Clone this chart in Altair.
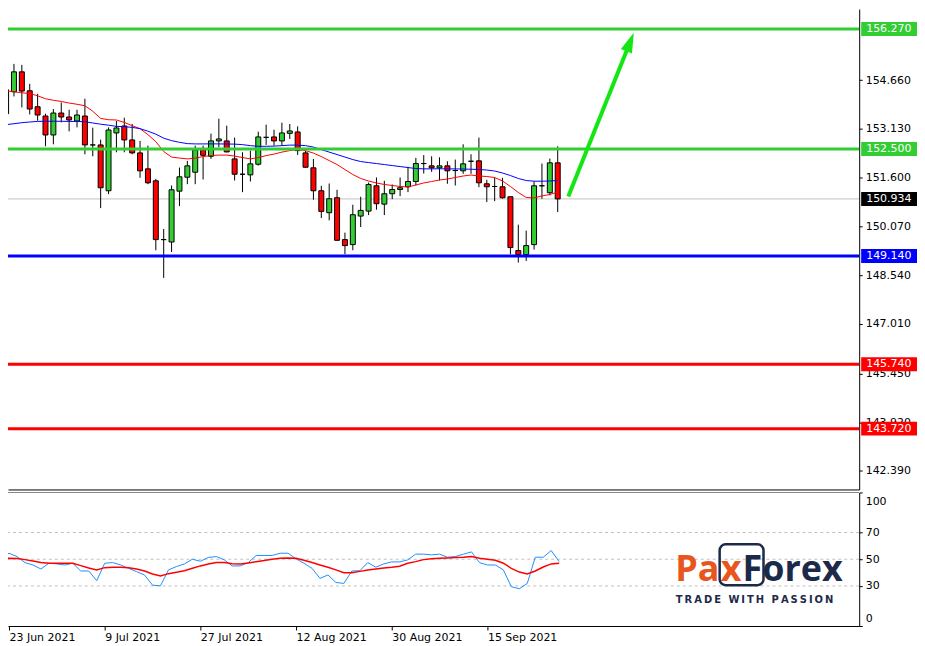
import altair as alt
import pandas as pd

# ---------------- data ----------------
bars = list(range(71))
opens = [153.609, 154.298, 154.924, 154.329, 153.828, 153.537, 152.942, 153.631, 153.506, 153.381,
         153.537, 152.629, 152.629, 151.190, 153.005, 153.224, 152.786, 152.379, 151.878, 151.503,
         149.656, 149.581, 151.177, 151.615, 151.772, 152.473, 152.273, 152.755, 152.755, 152.191,
         151.709, 151.690, 152.022, 152.867, 152.880, 152.755, 152.992, 153.036, 152.379, 151.910,
         151.190, 150.501, 150.971, 149.656, 149.499, 150.395, 150.551, 151.346, 150.770, 151.096,
         151.230, 151.315, 151.481, 152.044, 151.972, 151.910, 151.972, 151.825, 151.816, 152.116,
         152.129, 151.409, 151.324, 151.315, 151.002, 149.312, 149.186, 149.499, 151.346, 151.127,
         152.066]
highs = [154.486, 155.174, 155.143, 154.548, 154.235, 153.609, 153.756, 153.963, 153.734, 153.734,
         154.079, 153.171, 152.795, 153.180, 153.381, 153.484, 153.287, 152.755, 152.607, 151.565,
         149.988, 151.355, 151.919, 152.129, 152.607, 152.607, 152.983, 153.453, 153.233, 152.858,
         152.398, 152.451, 153.046, 153.265, 153.108, 153.327, 153.287, 153.212, 152.451, 152.191,
         151.346, 151.418, 151.221, 149.875, 150.751, 151.002, 151.449, 151.606, 151.503, 151.387,
         151.606, 151.941, 152.223, 152.310, 152.273, 152.241, 152.116, 152.169, 152.648, 152.335,
         152.858, 151.534, 151.597, 151.597, 151.002, 150.125, 149.938, 151.481, 152.044, 152.201,
         152.586]
lows = [153.108, 154.151, 153.806, 153.587, 153.390, 152.586, 152.648, 153.337, 153.055, 153.180,
        152.335, 152.273, 150.645, 151.083, 152.398, 152.398, 152.335, 151.597, 151.396, 149.321,
        148.454, 149.268, 150.708, 151.396, 151.396, 151.543, 152.191, 152.554, 152.398, 151.512,
        151.146, 151.481, 151.981, 152.629, 152.607, 152.607, 152.817, 152.316, 151.910, 150.908,
        150.332, 150.260, 149.625, 149.196, 149.321, 150.050, 150.426, 150.595, 150.426, 150.927,
        151.021, 151.146, 151.355, 151.731, 151.784, 151.512, 151.409, 151.355, 151.722, 151.722,
        151.302, 150.833, 150.864, 150.939, 149.196, 148.936, 148.986, 149.343, 150.939, 151.042,
        150.520]
closes = [154.360, 154.924, 154.320, 153.756, 153.568, 152.942, 153.631, 153.506, 153.412, 153.568,
          152.629, 152.629, 151.284, 153.099, 153.162, 152.786, 152.379, 151.816, 151.440, 149.656,
          149.656, 151.221, 151.628, 151.972, 152.473, 152.304, 152.755, 152.817, 152.410, 151.709,
          151.709, 152.035, 152.880, 152.867, 152.755, 153.005, 153.068, 152.451, 151.928, 151.190,
          150.542, 150.939, 149.634, 149.468, 150.438, 150.573, 151.387, 150.783, 151.096, 151.230,
          151.284, 151.481, 152.044, 152.044, 151.910, 151.972, 151.816, 151.825, 152.035, 152.116,
          151.440, 151.315, 151.324, 150.971, 149.406, 149.186, 149.468, 151.346, 151.346, 152.066,
          150.934]
ma_fast = [154.329, 154.298, 154.266, 154.244, 154.172, 154.079, 154.032, 153.994, 153.944, 153.906,
           153.859, 153.687, 153.462, 153.421, 153.412, 153.337, 153.233, 153.140, 152.952, 152.733,
           152.420, 152.248, 152.216, 152.191, 152.216, 152.263, 152.294, 152.310, 152.310, 152.279,
           152.232, 152.191, 152.232, 152.294, 152.341, 152.404, 152.451, 152.482, 152.451, 152.373,
           152.263, 152.138, 152.013, 151.856, 151.700, 151.575, 151.496, 151.434, 151.387, 151.355,
           151.324, 151.309, 151.371, 151.434, 151.481, 151.528, 151.559, 151.606, 151.653, 151.684,
           151.653, 151.637, 151.606, 151.496, 151.324, 151.136, 150.980, 150.964, 151.027, 151.074,
           151.146]
ma_slow = [153.265, 153.296, 153.327, 153.349, 153.368, 153.371, 153.374, 153.371, 153.368, 153.365,
           153.359, 153.318, 153.280, 153.249, 153.212, 153.202, 153.180, 153.140, 153.061, 152.967,
           152.842, 152.764, 152.711, 152.670, 152.661, 152.661, 152.663, 152.661, 152.658, 152.654,
           152.639, 152.607, 152.586, 152.586, 152.592, 152.607, 152.623, 152.623, 152.607, 152.561,
           152.482, 152.404, 152.326, 152.248, 152.169, 152.107, 152.075, 152.044, 152.013, 151.981,
           151.950, 151.919, 151.888, 151.878, 151.878, 151.880, 151.878, 151.876, 151.872, 151.866,
           151.856, 151.841, 151.809, 151.747, 151.668, 151.575, 151.512, 151.490, 151.490, 151.496,
           151.512]
stoch_k = [50.8, 54.5, 52.0, 47.5, 45.7, 42.7, 47.0, 46.5, 45.7, 47.0,
           41.2, 41.2, 33.9, 47.0, 47.5, 45.7, 43.2, 40.7, 38.2, 30.6,
           30.1, 42.0, 44.5, 46.5, 50.0, 48.5, 51.3, 52.0, 49.5, 45.0,
           45.0, 47.5, 52.8, 52.8, 52.8, 54.5, 54.5, 50.3, 47.0, 43.2,
           35.7, 38.2, 32.6, 31.9, 41.2, 41.4, 47.5, 44.0, 46.5, 48.0,
           48.0, 49.5, 53.8, 53.8, 53.3, 53.8, 51.5, 52.0, 53.8, 55.5,
           47.5, 45.7, 45.7, 42.0, 29.4, 27.9, 31.9, 51.5, 51.5, 56.5, 48.2]
stoch_d = [49.5, 50.8, 50.5, 49.7, 48.7, 47.5, 47.0, 47.0, 47.0, 47.0,
           45.2, 43.5, 42.0, 43.7, 44.0, 44.0, 43.7, 42.7, 41.2, 38.9,
           37.4, 39.2, 40.2, 41.4, 43.2, 45.0, 46.5, 47.5, 47.5, 46.7,
           46.5, 47.2, 48.2, 49.0, 50.0, 50.8, 51.0, 50.8, 49.2, 47.5,
           45.7, 44.0, 42.0, 39.9, 39.9, 40.9, 42.0, 42.7, 43.5, 44.0,
           44.7, 47.0, 48.2, 49.7, 50.3, 50.8, 51.0, 51.3, 51.5, 52.0,
           50.8, 50.0, 49.2, 47.0, 43.2, 40.4, 38.9, 41.2, 44.2, 46.5, 47.0]

date_ticks = [1, 13, 25, 37, 49, 61]
date_labels = ["23 Jun 2021", "9 Jul 2021", "27 Jul 2021", "12 Aug 2021", "30 Aug 2021", "15 Sep 2021"]
price_ticks = [154.66, 153.13, 151.60, 150.07, 148.54, 147.01, 145.45, 143.92, 142.39]
level_prices = [156.27, 152.50, 149.14, 145.74, 143.72]
level_colors = ["#32CD32", "#32CD32", "#0000FF", "#FF0000", "#FF0000"]
last_price = 150.934
tag_prices = [156.27, 152.50, 150.934, 149.14, 145.74, 143.72]
tag_colors = ["#32CD32", "#32CD32", "#000000", "#0000FF", "#FF0000", "#FF0000"]
osc_levels = [30, 50, 70]
osc_ticks = [0, 30, 50, 70, 100]
arrow_x = [71.34, 79.19]
arrow_y = [151.01, 155.86]
arrow_tip_x = [79.66]
arrow_tip_y = [156.15]

# ---------------- frames ----------------
candles = pd.DataFrame({"i": bars, "open": opens, "high": highs, "low": lows, "close": closes})
candles["fill"] = ["#32CD32" if c >= o else "#FF0000" for o, c in zip(opens, closes)]
mas = pd.DataFrame({"i": bars, "fast": ma_fast, "slow": ma_slow})
osc = pd.DataFrame({"i": bars, "k": stoch_k, "d": stoch_d})
levels = pd.DataFrame({"price": level_prices, "color": level_colors})
tags = pd.DataFrame({"price": tag_prices, "color": tag_colors,
                     "label": [f"{p:.3f}" for p in tag_prices]})
arrow = pd.DataFrame({"x": arrow_x, "y": arrow_y})
tip = pd.DataFrame({"x": arrow_tip_x, "y": arrow_tip_y})
one = pd.DataFrame({"a": [0]})

FONT = "DejaVu Sans"
ARROW = "#14E614"
NAVY = "#1C2A4A"
ORANGE = "#E8561E"

xs = alt.Scale(domain=[0.875, 107.625], nice=False, zero=False)
ys = alt.Scale(domain=[141.81, 156.896], nice=False, zero=False)
yo = alt.Scale(domain=[0, 100], nice=False, zero=False)

x_axis_main = alt.Axis(labels=False, ticks=False, domain=True, domainColor="black",
                       grid=False, title=None)
y_axis_main = alt.Axis(orient="right", values=price_ticks, format=".3f", labelFont=FONT,
                       labelFontSize=11, labelColor="black", tickColor="black", tickSize=3,
                       domainColor="black", labelPadding=3, grid=False, title=None,
                       labelOverlap=False, labelFlush=False)

label_expr = " : ".join(f"datum.value == {p} ? '{l}'" for p, l in zip(date_ticks, date_labels)) + " : ''"
x_axis_osc = alt.Axis(values=date_ticks, labelExpr=label_expr, labelAlign="left", labelFont=FONT,
                      labelFontSize=11, labelColor="black", tickColor="black", tickSize=4,
                      domainColor="black", labelPadding=2, grid=False, title=None,
                      labelOverlap=False, labelFlush=False)
y_axis_osc = alt.Axis(orient="right", values=osc_ticks, labelFont=FONT, labelFontSize=11,
                      labelColor="black", tickColor="black", tickSize=3, domainColor="black",
                      labelPadding=3, grid=False, title=None, labelOverlap=False, labelFlush=False,
                      labelOffset={"condition": [{"test": "datum.value == 100", "value": 9},
                                                 {"test": "datum.value == 0", "value": -8}],
                                   "value": 0})


def XM(f):
    return alt.X(f"{f}:Q", scale=xs, axis=x_axis_main, title=None)


def YM(f):
    return alt.Y(f"{f}:Q", scale=ys, axis=y_axis_main, title=None)


def XO(f):
    return alt.X(f"{f}:Q", scale=xs, axis=x_axis_osc, title=None)


def YO(f):
    return alt.Y(f"{f}:Q", scale=yo, axis=y_axis_osc, title=None)


# ---------------- main panel ----------------
grey = alt.Chart(pd.DataFrame({"p": [last_price]})).mark_rule(
    color="#C0C0C0", strokeWidth=1, clip=True).encode(y=YM("p"))
wicks = alt.Chart(candles).mark_rule(color="black", strokeWidth=1, clip=True).encode(
    x=XM("i"), y=YM("low"), y2="high")
bodies = alt.Chart(candles).mark_bar(size=5, stroke="black", strokeWidth=1, clip=True).encode(
    x=XM("i"), y=YM("open"), y2="close", fill=alt.Fill("fill:N", scale=None))
fast = alt.Chart(mas).mark_line(color="#FF0000", strokeWidth=1, clip=True).encode(x=XM("i"), y=YM("fast"))
slow = alt.Chart(mas).mark_line(color="#0000FF", strokeWidth=1, clip=True).encode(x=XM("i"), y=YM("slow"))
lvl = alt.Chart(levels).mark_rule(strokeWidth=3, clip=True).encode(
    y=YM("price"), color=alt.Color("color:N", scale=None))
shaft = alt.Chart(arrow).mark_line(color=ARROW, strokeWidth=4, strokeCap="butt", clip=True).encode(
    x=XM("x"), y=YM("y"))
head = alt.Chart(tip).mark_point(shape="M0,0L0.6,2L-0.6,2Z", size=400, filled=True, color=ARROW,
                                 opacity=1, angle=22, clip=True).encode(x=XM("x"), y=YM("y"))
boxes = alt.Chart(tags).mark_point(shape="M-1,-0.25L1,-0.25L1,0.25L-1,0.25Z", size=3136, filled=True,
                                   opacity=1).encode(
    x=alt.value(884), y=YM("price"), fill=alt.Fill("color:N", scale=None))
tag_text = alt.Chart(tags).mark_text(align="left", baseline="middle", color="white", font=FONT,
                                     fontSize=11).encode(x=alt.value(861), y=YM("price"), text="label:N")

main = alt.layer(grey, wicks, bodies, fast, slow, lvl, shaft, head, boxes, tag_text).properties(
    width=854, height=482)

# ---------------- oscillator panel ----------------
dash = alt.Chart(pd.DataFrame({"v": osc_levels})).mark_rule(
    color="#C0C0C0", strokeDash=[3, 3], strokeWidth=1, clip=True).encode(y=YO("v"))
top = alt.Chart(pd.DataFrame({"v": [100]})).mark_rule(color="black", strokeWidth=1, clip=True).encode(y=YO("v"))
kline = alt.Chart(osc).mark_line(color="#1E90FF", strokeWidth=1, clip=True).encode(x=XO("i"), y=YO("k"))
dline = alt.Chart(osc).mark_line(color="#FF0000", strokeWidth=1.5, clip=True).encode(x=XO("i"), y=YO("d"))

logo_box = alt.Chart(one).mark_rect(filled=False, stroke=NAVY, strokeWidth=2.5, cornerRadius=6).encode(
    x=alt.value(714), x2=alt.value(758), y=alt.value(52), y2=alt.value(93))
logo_pa = alt.Chart(one).mark_text(text="Pa", align="left", baseline="alphabetic", font="Open Sans",
                                   fontWeight="bold", fontSize=36, color=ORANGE).encode(
    x=alt.value(669.5), y=alt.value(88.5))
logo_x = alt.Chart(one).mark_text(text="x", align="left", baseline="alphabetic", font="Open Sans",
                                  fontWeight="bold", fontSize=36, color=ORANGE).encode(
    x=alt.value(715), y=alt.value(88.5))
logo_f = alt.Chart(one).mark_text(text="Forex", align="left", baseline="alphabetic", font="Open Sans",
                                  fontWeight="bold", fontSize=36, color=NAVY).encode(
    x=alt.value(737), y=alt.value(88.5))
tagline = alt.Chart(one).mark_text(text="\u2009".join("TRADE WITH PASSION"), align="left",
                                   baseline="alphabetic", font=FONT, fontWeight="bold", fontSize=10,
                                   color=NAVY).encode(x=alt.value(670), y=alt.value(110.5))

oscp = alt.layer(dash, top, kline, dline, logo_box, logo_pa, logo_x, logo_f, tagline).properties(
    width=854, height=134)

chart = alt.vconcat(main, oscp, spacing=2, padding=0, background="white").configure_view(stroke=None)
chart.save("out.html", embed_options={"renderer": "svg", "actions": False})
